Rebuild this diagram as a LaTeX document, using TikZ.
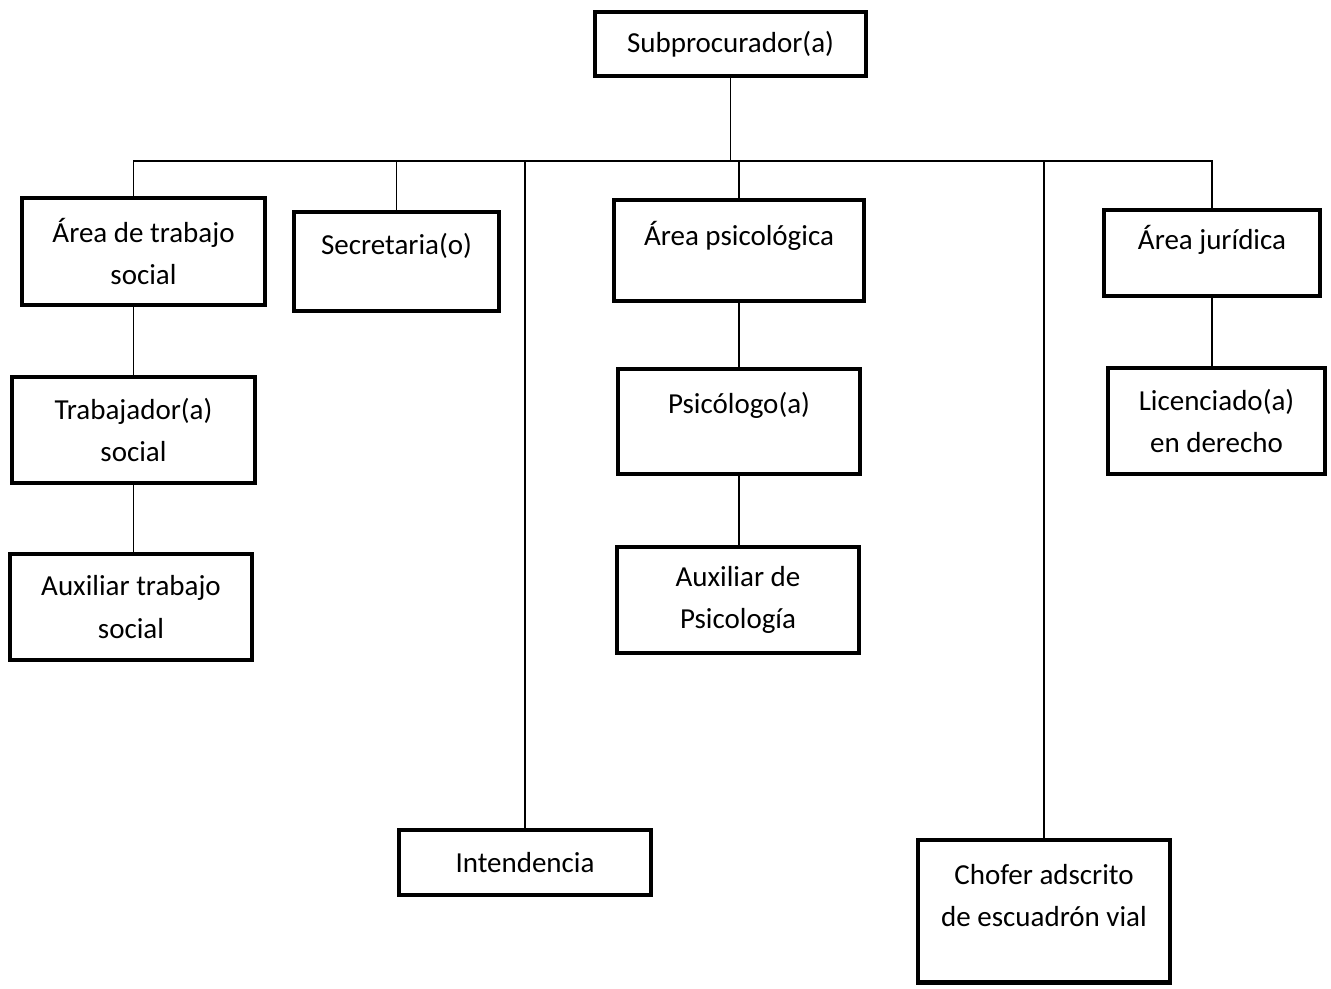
\documentclass[tikz,border=0pt]{standalone}
\usepackage{fontspec}
\setmainfont{Carlito}
\usepackage{tikz}
\usetikzlibrary{calc,positioning}
\tikzset{
    box/.style ={rectangle, draw, line width=2.3pt, align=center, inner sep=2pt,
                 font=\fontsize{16.5}{24}\selectfont},
    up/.style = {text depth=#1},
    link/.style = {line width=0.9pt}
}
\begin{document}
\begin{tikzpicture}[x=0.02cm,y=-0.02cm]
    \useasboundingbox (0,0) rectangle (1331,988);
    \node[box, minimum width=5.42cm, minimum height=1.28cm] (sub) at (730.5,44) {Subprocurador(a)};

    \node[box, minimum width=4.86cm, minimum height=2.14cm] (ats) at (143.5,251.5) {Área de trabajo\\social};
    \node[box, up=0.72cm, minimum width=4.10cm, minimum height=1.98cm] (sec) at (396.5,261.5) {Secretaria(o)};
    \node[box, up=0.68cm, minimum width=5.00cm, minimum height=2.02cm] (aps) at (739,250.5) {Área psicológica};
    \node[box, up=0.64cm, minimum width=4.32cm, minimum height=1.72cm] (aju) at (1212,253) {Área jurídica};

    \node[box, minimum width=4.86cm, minimum height=2.12cm] (tra) at (133.5,430) {Trabajador(a)\\social};
    \node[box, minimum width=4.84cm, minimum height=2.12cm] (aux) at (131,607) {Auxiliar trabajo\\social};
    \node[box, up=0.76cm, minimum width=4.84cm, minimum height=2.10cm] (psi) at (739,421.5) {Psicólogo(a)};
    \node[box, minimum width=4.84cm, minimum height=2.12cm] (apsi) at (738,600) {Auxiliar de\\Psicología};
    \node[box, minimum width=4.34cm, minimum height=2.12cm] (lic) at (1216.5,421) {Licenciado(a)\\en derecho};

    \node[box, minimum width=5.04cm, minimum height=1.30cm] (int) at (525,862.5) {Intendencia};
    \node[box, up=0.64cm, minimum width=5.04cm, minimum height=2.86cm] (cho) at (1044,911) {Chofer adscrito\\de escuadrón vial};

    % bus
    \coordinate (bus) at (730.5,161);
    \draw[link] (sub) -- (bus);
    \draw[link] (ats.north -| tra) |- (bus) -| (aju.north);
    \draw[link] (sec.north) -- (sec.north |- bus);
    \draw[link] (aps.north) -- (aps.north |- bus);
    \draw[link] (int.north) -- (int.north |- bus);
    \draw[link] (cho.north) -- (cho.north |- bus);

    % lower levels
    \draw[link] (ats.south -| tra) -- (tra.north);
    \draw[link] (tra.south) -- (tra.south |- aux.north);
    \draw[link] (aps.south) -- (psi.north);
    \draw[link] (psi.south) -- (apsi.north -| psi);
    \draw[link] (aju.south) -- (aju.south |- lic.north);
\end{tikzpicture}
\end{document}
